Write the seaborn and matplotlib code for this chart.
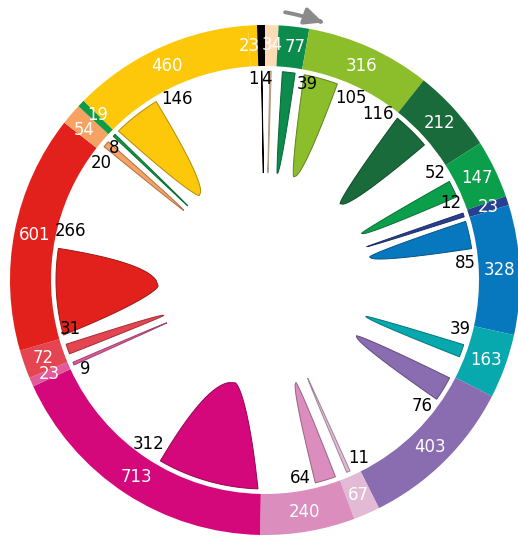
import numpy as np
import matplotlib.pyplot as plt
import seaborn as sns
from matplotlib.patches import Wedge, Polygon, FancyArrowPatch
from matplotlib.path import Path
from matplotlib import font_manager, colors as mcolors

# ring segments, clockwise from 12 o'clock
outer_values = [34, 77, 316, 212, 147, 23, 328, 163, 403, 67, 240, 713, 23, 72, 601, 54, 19, 460, 23, 20]
outer_labels = ['34', '77', '316', '212', '147', '23', '328', '163', '403', '67', '240', '713', '23',
                '72', '601', '54', '19', '460', '23', '']
# inner petals (one per segment, 0 = none)
inner_values = [4, 39, 105, 116, 52, 12, 85, 39, 76, 11, 64, 312, 9, 31, 266, 20, 8, 146, 0, 1]
inner_label_side = ['on', 'after', 'after', 'before', 'before', 'before', 'after', 'before', 'after',
                    'before', 'after', 'after', 'before', 'after', 'after', 'before', 'before', 'after',
                    None, 'before']
seg_colors = ['#fddcb5', '#0b8c4c', '#8cbd2a', '#1a6b3b', '#0b9f4b', '#27408f', '#0878be', '#07a8ae',
              '#8a6cb0', '#e2bad6', '#db8dbd', '#d4077b', '#e25a9c', '#e44550', '#e2211c', '#f5a262',
              '#109a45', '#fdc70a', '#fdc70a', '#000000']

sns.set_theme(style='white')

# look for a narrow sans face (the original uses an Arial Narrow look)
entries = font_manager.fontManager.ttflist
names = {f.name for f in entries}
stretch = 'normal'
if 'Liberation Sans Narrow' in names:
    font, fsize, digit_em = 'Liberation Sans Narrow', 14.5, 0.46
elif any(f.name == 'DejaVu Sans' and str(f.stretch).endswith('condensed') for f in entries):
    font, fsize, digit_em, stretch = 'DejaVu Sans', 13.2, 0.58, 'condensed'
else:
    font, fsize, digit_em = 'Liberation Sans', 13.0, 0.56
plt.rcParams['font.family'] = [font, 'DejaVu Sans']
plt.rcParams['font.stretch'] = stretch

R_OUT, R_IN = 255, 214
R_BASE, R_TIP = 209, 107
R_LAB_OUT, R_LAB_IN = 235, 201
EM = fsize * 100 / 72          # one em in pixels (= data units here)
TXT_H = 0.73 * EM


def pol(r, a):
    a = np.radians(a)
    return r * np.sin(a), r * np.cos(a)


def spread(angles, texts, radius, iters=300):
    """push neighbouring labels on a circle apart until their boxes no longer touch"""
    ang = np.array(angles, float)
    n = len(ang)
    order = np.argsort(ang % 360)
    widths = [len(s) * digit_em * EM for s in texts]
    for _ in range(iters):
        moved = False
        for k in range(n):
            i, j = order[k], order[(k + 1) % n]
            diff = (ang[j] - ang[i]) % 360
            a = np.radians(ang[i] + diff / 2)
            tx, ty = max(abs(np.cos(a)), 1e-6), max(abs(np.sin(a)), 1e-6)
            need_px = min(((widths[i] + widths[j]) / 2 + 2) / tx, (TXT_H + 2) / ty)
            need = np.degrees(need_px / radius)
            if diff < need - 1e-3:
                push = (need - diff) / 2
                ang[i] -= push
                ang[j] += push
                moved = True
        if not moved:
            break
    return ang


fig = plt.figure(figsize=(5.18, 5.37), dpi=100)
ax = fig.add_axes([0, 0, 1, 1])
ax.set_xlim(-265, 253)
ax.set_ylim(-257, 280)
ax.set_aspect('equal')
ax.axis('off')

total = sum(outer_values)
scale = 360.0 / total
starts = np.concatenate([[0], np.cumsum(outer_values)[:-1]]) * scale
spans = np.array(outer_values) * scale

out_ang, out_txt = [], []
in_ang, in_txt = [], []
for i, v in enumerate(outer_values):
    a0, a1 = starts[i], starts[i] + spans[i]
    ax.add_patch(Wedge((0, 0), R_OUT, 90 - a1, 90 - a0, width=R_OUT - R_IN,
                       facecolor=seg_colors[i], edgecolor='none'))
    if outer_labels[i]:
        out_ang.append((a0 + a1) / 2)
        out_txt.append(outer_labels[i])

    iv = inner_values[i]
    if iv == 0:
        continue
    w = iv * scale
    if v < 170:
        p0 = a0 + (spans[i] - w) / 2
    else:
        p0 = a0 + 0.8
    p1 = p0 + w
    pm, h = (p0 + p1) / 2, w / 2
    L = R_BASE - R_TIP
    dx, dy = pol(1, pm)
    t = np.linspace(0, 1, 60)
    pts = []
    for tt in t:  # start side, nearly straight
        bx, by = pol(R_BASE, pm - h * (1 - tt) ** 0.75)
        pts.append((bx - tt * L * dx, by - tt * L * dy))
    for tt in t[::-1]:  # end side, bulging
        bx, by = pol(R_BASE, pm + h * (1 - tt) ** 0.5)
        pts.append((bx - tt * L * dx, by - tt * L * dy))
    for off in np.linspace(h, -h, 20):
        pts.append(pol(R_BASE, pm + off))
    edge = tuple(np.array(mcolors.to_rgb(seg_colors[i])) * 0.7)
    ax.add_patch(Polygon(pts, closed=True, facecolor=seg_colors[i], edgecolor=edge, linewidth=0.7))

    lab = str(iv)
    gap = np.degrees((len(lab) * digit_em * EM / 2 + 3) / R_LAB_IN)
    side = inner_label_side[i]
    if side == 'before':
        la = p0 - gap
    elif side == 'after':
        la = p1 + gap
    else:
        la = pm - 1.0
    in_ang.append(la)
    in_txt.append(lab)

for a, s in zip(spread(out_ang, out_txt, R_LAB_OUT), out_txt):
    x, y = pol(R_LAB_OUT, a)
    ax.text(x, y, s, color='white', fontsize=fsize, ha='center', va='center')
for a, s in zip(spread(in_ang, in_txt, R_LAB_IN), in_txt):
    x, y = pol(R_LAB_IN, a)
    ax.text(x, y, s, color='black', fontsize=fsize, ha='center', va='center')

# direction arrow at the top, following the ring
arc = [pol(268.5 - 4.5 * k, 4.3 + 8.4 * k) for k in np.linspace(0, 1, 20)]
ax.add_patch(FancyArrowPatch(path=Path(arc), arrowstyle='-|>,head_length=0.9,head_width=0.42',
                             mutation_scale=12, linewidth=2.8, color='#8a8a8a'))

fig.savefig('out.png', dpi=100)
